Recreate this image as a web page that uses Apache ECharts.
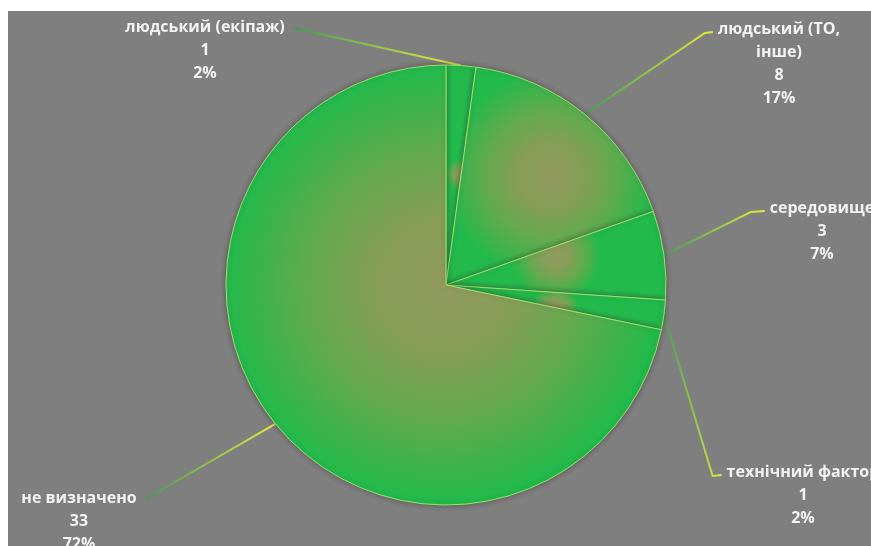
<!DOCTYPE html>
<html>
<head>
<meta charset="utf-8">
<script src="https://cdn.jsdelivr.net/npm/echarts@6/dist/echarts.min.js"></script>
<style>
  html, body { margin: 0; padding: 0; background: #ffffff; width: 871px; height: 546px; overflow: hidden; }
  #chart { position: absolute; left: 8px; top: 11px; width: 863px; height: 535px; background: #7f7f7f; }
</style>
</head>
<body>
<div id="chart"></div>
<script>
// Causes of incidents: category names and number of cases
const categories = ['людський (екіпаж)', 'людський (ТО, інше)', 'середовище', 'технічний фактор', 'не визначено'];
const counts = [1, 8, 3, 1, 33];

// Label placement: [centre x, top y] of each label block, in chart pixels
const labelAnchors = [[197, 5], [771, 7], [814, 186], [795, 450], [71, 476]];
// Which side of the label block the leader line attaches to
const attachSide = ['right', 'left', 'left', 'left', 'right'];
// Length of the short horizontal tail of each leader line
const leaderTail = [0, 8, 14, 9, 0];
// Maximum width of the name line before it wraps (0 = no wrapping)
const wrapWidth = [0, 135, 0, 0, 0];

const FONT_SIZE = 16;
const LINE_H = 23;
const FONT_FAMILY = '"Open Sans", "DejaVu Sans", sans-serif';

const measureCtx = document.createElement('canvas').getContext('2d');
measureCtx.font = 'bold ' + FONT_SIZE + 'px ' + FONT_FAMILY;

// Greedy word wrap of a category name
function wrapName(name, maxW) {
  if (!maxW || measureCtx.measureText(name).width <= maxW) return [name];
  const words = name.split(' ');
  const lines = [];
  let cur = '';
  words.forEach(function (w) {
    const test = cur ? cur + ' ' + w : w;
    if (cur && measureCtx.measureText(test).width > maxW) {
      lines.push(cur);
      cur = w;
    } else {
      cur = test;
    }
  });
  if (cur) lines.push(cur);
  return lines;
}

const nameLines = categories.map(function (c, i) { return wrapName(c, wrapWidth[i]); });

// Slice fill: olive core fading to bright green at the rim
const sliceFill = {
  type: 'radial', x: 0.5, y: 0.5, r: 0.5,
  colorStops: [
    { offset: 0, color: '#919a5d' },
    { offset: 0.3, color: '#879d58' },
    { offset: 0.6, color: '#65a94f' },
    { offset: 0.85, color: '#3bb34b' },
    { offset: 1, color: '#21ba4b' }
  ]
};

const leaderColor = {
  type: 'linear', x: 0, y: 0, x2: 1, y2: 0,
  colorStops: [
    { offset: 0, color: '#3f9a58' },
    { offset: 1, color: '#e8ee3c' }
  ]
};

const chart = echarts.init(document.getElementById('chart'));

chart.setOption({
  backgroundColor: '#7f7f7f',
  animation: false,
  series: [{
    type: 'pie',
    center: [438, 274],
    radius: 220,
    startAngle: 90,
    clockwise: true,
    avoidLabelOverlap: false,
    percentPrecision: 0,
    silent: true,
    data: categories.map(function (c, i) { return { name: c, value: counts[i] }; }),
    itemStyle: {
      color: sliceFill,
      borderColor: 'rgba(170, 245, 110, 0.8)',
      borderWidth: 1,
      shadowBlur: 6,
      shadowColor: 'rgba(50, 25, 35, 0.45)'
    },
    label: {
      show: true,
      position: 'outside',
      color: '#f2f2f2',
      fontFamily: FONT_FAMILY,
      fontWeight: 'bold',
      fontSize: FONT_SIZE,
      lineHeight: LINE_H,
      align: 'center',
      formatter: function (p) {
        return nameLines[p.dataIndex].join('\n') + '\n' + p.value + '\n' + p.percent + '%';
      }
    },
    labelLine: {
      show: true,
      length: 20,
      length2: 10,
      lineStyle: { color: leaderColor, width: 2 }
    },
    labelLayout: function (p) {
      const i = p.dataIndex;
      const cx = labelAnchors[i][0];
      const top = labelAnchors[i][1];
      const firstW = measureCtx.measureText(nameLines[i][0]).width;
      const edge = p.labelLinePoints ? p.labelLinePoints[0] : null;
      let end, bend;
      if (attachSide[i] === 'right') {
        end = [cx + firstW / 2 + 9, top + 12];
        bend = [end[0] + leaderTail[i], end[1]];
      } else {
        end = [cx - firstW / 2 - 5, top + 14];
        bend = [end[0] - leaderTail[i], end[1] + 1];
      }
      const out = { x: cx, y: top, align: 'center', verticalAlign: 'top' };
      if (edge) out.labelLinePoints = [edge, bend, end];
      return out;
    }
  }]
});
</script>
</body>
</html>
